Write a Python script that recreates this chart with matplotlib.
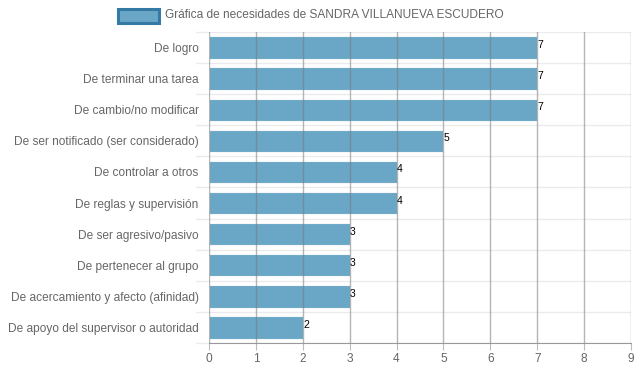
import matplotlib
matplotlib.use("Agg")
import matplotlib.pyplot as plt
from matplotlib.patches import Rectangle

categories = ["De logro", "De terminar una tarea", "De cambio/no modificar",
              "De ser notificado (ser considerado)", "De controlar a otros",
              "De reglas y supervisión", "De ser agresivo/pasivo",
              "De pertenecer al grupo", "De acercamiento y afecto (afinidad)",
              "De apoyo del supervisor o autoridad"]
values = [7, 7, 7, 5, 4, 4, 3, 3, 3, 2]
x_ticks = list(range(0, 10))
legend_label = "Gráfica de necesidades de SANDRA VILLANUEVA ESCUDERO"

plt.rcParams['font.family'] = ['Liberation Sans', 'DejaVu Sans']

W, H = 637, 371
fig = plt.figure(figsize=(W/100, H/100), dpi=100)
ax = fig.add_axes([209/W, 1-343/H, (631-209)/W, (343-32)/H])

n = len(categories)
ypos = list(range(n))
ax.barh(ypos, values, height=0.72, color='#6aa6c6', edgecolor='#f4f8fb',
        linewidth=0.8, zorder=2)
ax.set_ylim(n-0.5, -0.5)
ax.set_xlim(0, 9)

# vertical grid lines over bars
for t in x_ticks:
    ax.axvline(t, color='#7a7a7a', alpha=0.55, linewidth=1.0, zorder=3)
# horizontal category boundaries
for b in range(n+1):
    ax.axhline(b-0.5, color='#ebebeb', linewidth=1.0, zorder=1)
    ax.plot([-0.28, 0], [b-0.5, b-0.5], color='#ebebeb', linewidth=1.0, clip_on=False, zorder=1)

ax.set_xticks(x_ticks)
ax.set_yticks(ypos)
ax.set_yticklabels(categories)
ax.tick_params(axis='y', length=0, labelsize=8.6, labelcolor='#666666', pad=7.5)
ax.tick_params(axis='x', length=5, color='#bbbbbb', labelsize=8.6, labelcolor='#666666', pad=2)

for s in ['top', 'right', 'left']:
    ax.spines[s].set_visible(False)
ax.spines['bottom'].set_color('#999999')

for y, v in zip(ypos, values):
    ax.text(v + 0.01, y - 0.08, str(v), fontsize=7.5, color='black', va='center', ha='left', zorder=4)

# legend
fig.patches.append(Rectangle((118/W, 1-23/H), 41/W, 14/H, transform=fig.transFigure,
                             facecolor='#6aa6c6', edgecolor='#3579a5', linewidth=2.2))
fig.text(165/W, 1-15/H, legend_label, fontsize=8.6, color='#666666', va='center', ha='left')

fig.savefig('out.png', dpi=100)
